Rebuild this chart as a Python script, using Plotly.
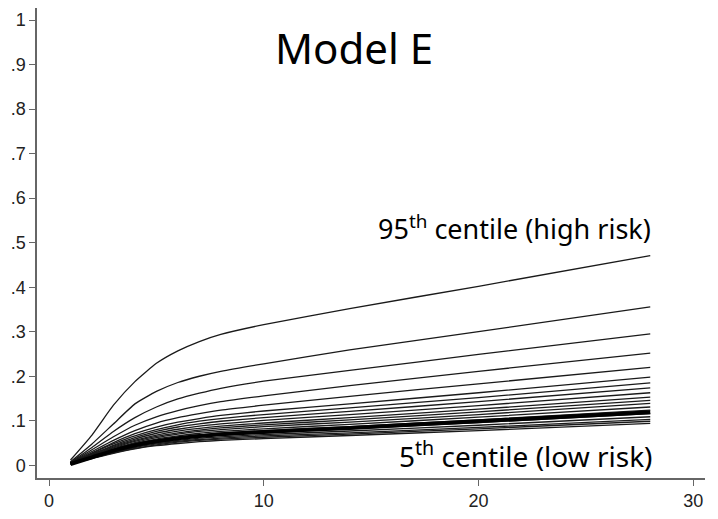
import plotly.graph_objects as go

# Time points (x)
time = [1, 2, 3, 4, 5, 6, 7, 8, 10, 14, 20, 28]

# Predicted cumulative risk curves by centile of risk (95th -> 5th)
c95 = [0.012, 0.068, 0.135, 0.188, 0.229, 0.257, 0.278, 0.294, 0.316, 0.352, 0.402, 0.471]
c90 = [0.008, 0.048, 0.093, 0.138, 0.166, 0.186, 0.200, 0.211, 0.228, 0.259, 0.300, 0.356]
c85 = [0.007, 0.040, 0.076, 0.107, 0.131, 0.149, 0.162, 0.173, 0.189, 0.213, 0.249, 0.295]
c80 = [0.006, 0.035, 0.064, 0.090, 0.109, 0.123, 0.134, 0.143, 0.156, 0.179, 0.211, 0.252]
c75 = [0.006, 0.031, 0.056, 0.078, 0.095, 0.107, 0.116, 0.124, 0.135, 0.155, 0.183, 0.220]
c70 = [0.005, 0.028, 0.051, 0.071, 0.086, 0.097, 0.105, 0.112, 0.122, 0.138, 0.163, 0.198]
c65 = [0.005, 0.027, 0.048, 0.066, 0.080, 0.091, 0.099, 0.105, 0.114, 0.129, 0.152, 0.185]
c60 = [0.005, 0.025, 0.045, 0.062, 0.076, 0.086, 0.093, 0.099, 0.107, 0.121, 0.143, 0.174]
c55 = [0.004, 0.024, 0.043, 0.059, 0.072, 0.081, 0.088, 0.093, 0.101, 0.114, 0.134, 0.163]
c50 = [0.004, 0.023, 0.041, 0.056, 0.068, 0.077, 0.083, 0.088, 0.095, 0.107, 0.126, 0.153]
c45 = [0.004, 0.022, 0.039, 0.054, 0.065, 0.073, 0.079, 0.084, 0.091, 0.102, 0.120, 0.146]
c40 = [0.004, 0.021, 0.037, 0.051, 0.062, 0.070, 0.076, 0.080, 0.087, 0.097, 0.114, 0.139]
c35 = [0.004, 0.020, 0.035, 0.049, 0.059, 0.066, 0.072, 0.076, 0.082, 0.092, 0.108, 0.131]
c30 = [0.003, 0.019, 0.034, 0.047, 0.056, 0.063, 0.068, 0.072, 0.078, 0.087, 0.102, 0.124]
c25 = [0.003, 0.018, 0.032, 0.044, 0.053, 0.060, 0.065, 0.068, 0.073, 0.082, 0.096, 0.116]
c20 = [0.003, 0.017, 0.030, 0.042, 0.050, 0.056, 0.061, 0.064, 0.069, 0.077, 0.090, 0.109]
c15 = [0.003, 0.016, 0.029, 0.040, 0.048, 0.054, 0.058, 0.061, 0.066, 0.073, 0.085, 0.103]
c10 = [0.003, 0.016, 0.028, 0.038, 0.046, 0.052, 0.056, 0.059, 0.063, 0.070, 0.082, 0.099]
c05 = [0.003, 0.015, 0.027, 0.037, 0.044, 0.049, 0.053, 0.056, 0.060, 0.067, 0.078, 0.094]

# Thick reference curve
overall = [0.003, 0.018, 0.033, 0.045, 0.054, 0.061, 0.066, 0.070, 0.075, 0.084, 0.099, 0.119]

centiles = [c95, c90, c85, c80, c75, c70, c65, c60, c55, c50,
            c45, c40, c35, c30, c25, c20, c15, c10, c05]

y_ticks = [0, 0.1, 0.2, 0.3, 0.4, 0.5, 0.6, 0.7, 0.8, 0.9, 1]
y_tick_text = ["0", ".1", ".2", ".3", ".4", ".5", ".6", ".7", ".8", ".9", "1"]
x_ticks = [0, 10, 20, 30]

fig = go.Figure()
for c in centiles:
    fig.add_trace(go.Scatter(x=time, y=c, mode="lines",
                             line=dict(color="#1a1a1a", width=1.3, shape="spline", smoothing=0.5),
                             showlegend=False, hoverinfo="skip"))
fig.add_trace(go.Scatter(x=time, y=overall, mode="lines",
                         line=dict(color="#000000", width=4, shape="spline", smoothing=0.5),
                         showlegend=False, hoverinfo="skip"))

fig.add_annotation(x=14.2, y=0.939, xref="x", yref="y", text="Model E",
                   showarrow=False, font=dict(family="Noto Sans", size=42, color="#000000"))
fig.add_annotation(x=28.15, y=0.533, xref="x", yref="y", xanchor="right",
                   text="95<sup>th</sup> centile (high risk)",
                   showarrow=False, font=dict(family="Noto Sans", size=27, color="#000000"))
fig.add_annotation(x=28.2, y=0.024, xref="x", yref="y", xanchor="right",
                   text="5<sup>th</sup> centile (low risk)",
                   showarrow=False, font=dict(family="Noto Sans", size=28, color="#000000"))

axis_common = dict(showgrid=False, zeroline=False, showline=True, linecolor="#666666",
                   linewidth=1.5, ticks="outside", tickcolor="#666666", ticklen=6,
                   tickwidth=1.3, automargin=False,
                   tickfont=dict(family="Liberation Sans", size=18, color="#222222"))

# The page body adds an 8px offset, so the figure margins are reduced accordingly.
fig.update_layout(
    width=710, height=511,
    margin=dict(l=29, r=13, t=0, b=41),
    plot_bgcolor="white", paper_bgcolor="white",
    xaxis=dict(range=[-0.56, 30.55], tickvals=x_ticks, **axis_common),
    yaxis=dict(range=[-0.0285, 1.027], tickvals=y_ticks, ticktext=y_tick_text, **axis_common),
)

fig.write_html("out.html")
